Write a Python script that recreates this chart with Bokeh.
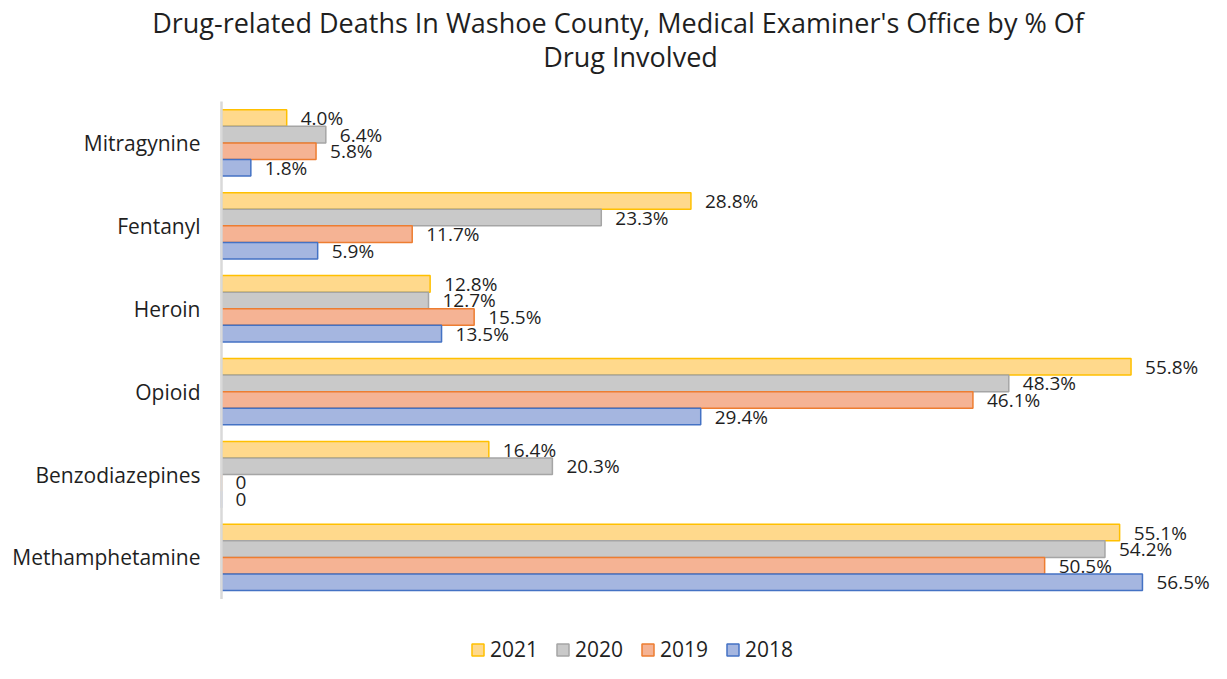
from bokeh.plotting import figure
from bokeh.models import Range1d, Label, Legend, LegendItem, ColumnDataSource
from bokeh.transform import dodge
from bokeh.embed import file_html
from bokeh.resources import INLINE
from bokeh.core.properties import value

categories = ["Mitragynine", "Fentanyl", "Heroin", "Opioid", "Benzodiazepines", "Methamphetamine"]
years = ["2021", "2020", "2019", "2018"]
v2021 = [4.0, 28.8, 12.8, 55.8, 16.4, 55.1]
v2020 = [6.4, 23.3, 12.7, 48.3, 20.3, 54.2]
v2019 = [5.8, 11.7, 15.5, 46.1, 0, 50.5]
v2018 = [1.8, 5.9, 13.5, 29.4, 0, 56.5]
series = {"2021": v2021, "2020": v2020, "2019": v2019, "2018": v2018}
title_lines = ["Drug-related Deaths In Washoe County, Medical Examiner's Office  by % Of", "Drug Involved"]

fills = {"2021": "#FFD98C", "2020": "#C9C9C9", "2019": "#F5B394", "2018": "#A5B6E0"}
lines = {"2021": "#FFC000", "2020": "#A5A5A5", "2019": "#ED7D31", "2018": "#4472C4"}
offsets = {"2021": 0.3, "2020": 0.1, "2019": -0.1, "2018": -0.3}

FONT = "Open Sans"
TXT = "#1f1f1f"
W, H = 1211, 663
AXIS_X, TOP = 221, 101      # pixel position of the value axis and top of category bands
SX, SY = 16.3, 82.9         # pixels per percent / per category band

n = len(categories)
cat_y = [n - i - 0.5 for i in range(n)]

p = figure(
    x_range=Range1d(-AXIS_X / SX, (W - AXIS_X) / SX),
    y_range=Range1d(n - (H - TOP) / SY, n + TOP / SY),
    width=W, height=H, min_border=0,
    x_axis_location=None, y_axis_location=None,
    output_backend="svg", toolbar_location=None,
)
p.xgrid.visible = False
p.ygrid.visible = False
p.outline_line_color = None

items = []
for yr in years:
    vals = series[yr]
    labels = ["0" if v == 0 else f"{v:.1f}%" for v in vals]
    src = ColumnDataSource(dict(y=cat_y, val=vals, lab=labels))
    r = p.hbar(y=dodge("y", offsets[yr]), left=0, right="val", height=0.2,
               source=src, fill_color=fills[yr], line_color=lines[yr], line_width=1.5)
    p.text(x="val", y=dodge("y", offsets[yr]), text="lab", source=src,
           x_offset=14, text_align="left", text_baseline="middle",
           text_font=value(FONT), text_font_size="19px", text_color=TXT)
    items.append(LegendItem(label=yr, renderers=[r]))

# category axis: line at zero spanning the category bands, labels to its left
p.segment(x0=[0], y0=[0], x1=[0], y1=[n], line_color="#D9D9D9", line_width=2.5)
p.text(x=[0] * n, y=cat_y, text=categories, x_offset=-21, text_align="right",
       text_baseline="middle", text_font=value(FONT), text_font_size="21px", text_color=TXT)

legend = Legend(items=items, orientation="horizontal", location=(470, 0),
                label_text_font=FONT, label_text_font_size="21px", label_text_color=TXT,
                glyph_width=15, glyph_height=15, spacing=17, label_standoff=5,
                border_line_color=None, background_fill_alpha=0, padding=0, margin=0)
p.add_layout(legend)

for txt, cx, cy in zip(title_lines, [621, 630], [22, 56]):
    p.add_layout(Label(x=cx, y=H - cy, x_units="screen", y_units="screen",
                       text=txt, text_align="center", text_baseline="middle",
                       text_font=FONT, text_font_size="27px", text_color=TXT))

open("out.html", "w").write(file_html(p, INLINE))
